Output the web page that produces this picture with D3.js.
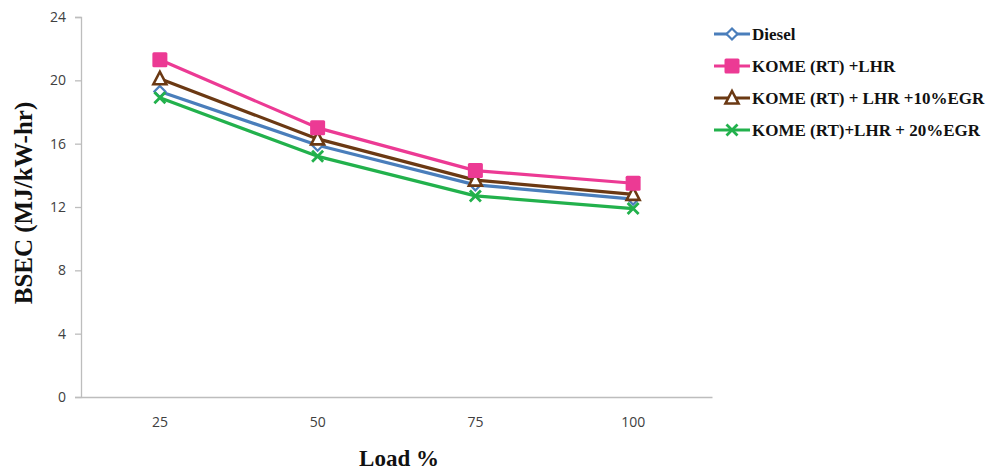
<!DOCTYPE html>
<html><head><meta charset="utf-8">
<script src="https://cdn.jsdelivr.net/npm/d3@7"></script>
<style>body{margin:0;background:#fff}svg{display:block}</style>
</head><body>
<script>
const categories = ["25", "50", "75", "100"];
const yTicks = [0, 4, 8, 12, 16, 20, 24];
const seriesNames = ["Diesel", "KOME (RT) +LHR", "KOME (RT) + LHR +10%EGR", "KOME (RT)+LHR + 20%EGR"];
const diesel = [19.3, 15.9, 13.4, 12.5];
const komeLHR = [21.3, 17.0, 14.3, 13.5];
const kome10 = [20.1, 16.3, 13.7, 12.8];
const kome20 = [18.9, 15.2, 12.7, 11.9];
const seriesValues = [diesel, komeLHR, kome10, kome20];
const colors = ["#4A7EBB", "#EC3A94", "#6B3913", "#22B14C"];
const markers = ["diamond", "square", "triangle", "cross"];

(function () {
const W = 990, H = 473;
const svg = d3.select("body").append("svg").attr("width", W).attr("height", H);
const mLeft = 81, mRight = 712, mTop = 17, mBottom = 397;
const x = d3.scaleBand().domain(categories).range([mLeft, mRight]);
const y = d3.scaleLinear().domain([0, 24]).range([mBottom, mTop]);

// y axis
const ya = svg.append("g").attr("transform", `translate(${mLeft},0)`)
  .call(d3.axisLeft(y).tickValues(yTicks).tickSize(6).tickPadding(9));
ya.select(".domain").attr("stroke", "#BDBDBD").attr("stroke-width", 1.3);
ya.selectAll(".tick line").attr("stroke", "#BDBDBD").attr("stroke-width", 1.3);
ya.selectAll(".tick text").attr("font-family", "'Open Sans', 'Liberation Sans', sans-serif").attr("font-size", 14).attr("fill", "#404040");

// x axis
const xa = svg.append("g").attr("transform", `translate(0,${mBottom})`)
  .call(d3.axisBottom(x).tickSize(0).tickPadding(20).tickSizeOuter(0));
xa.select(".domain").attr("stroke", "#BDBDBD").attr("stroke-width", 1.3);
xa.selectAll(".tick text").attr("font-family", "'Open Sans', 'Liberation Sans', sans-serif").attr("font-size", 14).attr("fill", "#404040");

// axis titles
svg.append("text").attr("x", 399).attr("y", 466).attr("text-anchor", "middle")
  .attr("font-family", "'Liberation Serif', serif").attr("font-weight", "bold").attr("font-size", 23)
  .attr("fill", "#111").text("Load %");
svg.append("text").attr("transform", "translate(32,203) rotate(-90)").attr("text-anchor", "middle")
  .attr("font-family", "'Liberation Serif', serif").attr("font-weight", "bold").attr("font-size", 25)
  .attr("fill", "#111").text("BSEC (MJ/kW-hr)");

function drawMarker(g, type, color, cx, cy) {
  if (type === "diamond") {
    g.append("path").attr("d", `M${cx},${cy-5.5}L${cx+5.5},${cy}L${cx},${cy+5.5}L${cx-5.5},${cy}Z`)
      .attr("fill", "#fff").attr("stroke", color).attr("stroke-width", 2.2);
  } else if (type === "square") {
    g.append("rect").attr("x", cx-7.5).attr("y", cy-7.5).attr("width", 15).attr("height", 15).attr("rx", 1.5)
      .attr("fill", color);
  } else if (type === "triangle") {
    g.append("path").attr("d", `M${cx},${cy-7}L${cx+6.5},${cy+5.5}L${cx-6.5},${cy+5.5}Z`)
      .attr("fill", "#fff").attr("stroke", color).attr("stroke-width", 2.6);
  } else {
    g.append("path").attr("d", `M${cx-5.5},${cy-5.5}L${cx+5.5},${cy+5.5}M${cx+5.5},${cy-5.5}L${cx-5.5},${cy+5.5}`)
      .attr("stroke", color).attr("stroke-width", 2.8).attr("fill", "none");
  }
}

const line = d3.line().x((d, i) => x(categories[i]) + x.bandwidth() / 2).y(d => y(d));
const drawOrder = [0, 3, 2, 1];
drawOrder.forEach(si => {
  svg.append("path").datum(seriesValues[si]).attr("d", line)
    .attr("fill", "none").attr("stroke", colors[si]).attr("stroke-width", 3.2).attr("stroke-linejoin", "round");
});
drawOrder.forEach(si => {
  const g = svg.append("g");
  seriesValues[si].forEach((v, i) => drawMarker(g, markers[si], colors[si], x(categories[i]) + x.bandwidth() / 2, y(v)));
});

// legend
const legY = [34, 66, 98, 130];
seriesNames.forEach((name, i) => {
  const g = svg.append("g");
  g.append("line").attr("x1", 714).attr("x2", 750).attr("y1", legY[i]).attr("y2", legY[i])
    .attr("stroke", colors[i]).attr("stroke-width", 3.2);
  drawMarker(g, markers[i], colors[i], 732, legY[i]);
  g.append("text").attr("x", 752).attr("y", legY[i] + 6)
    .attr("font-family", "'Liberation Serif', serif").attr("font-weight", "bold").attr("font-size", 17)
    .attr("fill", "#111").text(name);
});
})();
</script>
</body></html>
